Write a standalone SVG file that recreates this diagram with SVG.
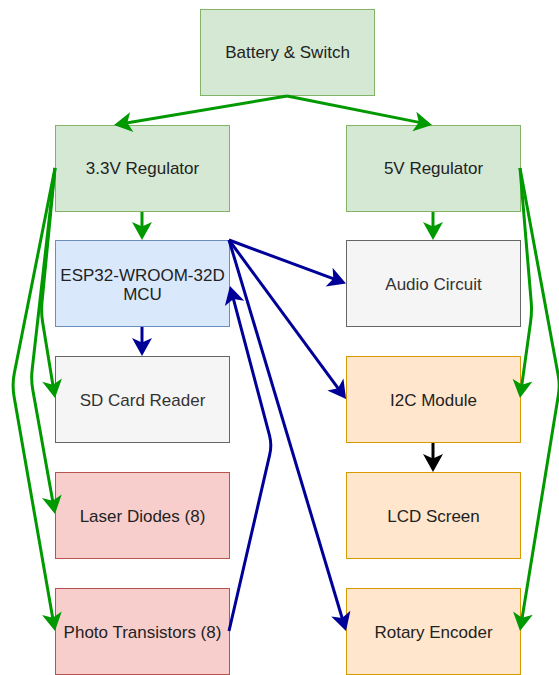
<svg xmlns="http://www.w3.org/2000/svg" width="559" height="675" viewBox="0 0 559 675">
<style>
  .box { stroke-width: 1; }
  .g { fill: #d5e8d4; stroke: #82b366; }
  .b { fill: #dae8fc; stroke: #6c8ebf; }
  .k { fill: #f5f5f5; stroke: #666666; }
  .r { fill: #f8cecc; stroke: #b85450; }
  .o { fill: #ffe6cc; stroke: #d79b00; }
  text { font-family: "Liberation Sans", Arial, sans-serif; font-size: 17px; text-anchor: middle; fill: #222222; }
  text.dim { fill: #333333; }
  .e { fill: none; stroke-width: 3; stroke-linejoin: round; }
  .eg { stroke: #009900; }
  .eb { stroke: #000099; }
  .ek { stroke: #000000; }
</style>
<defs>
  <marker id="ag" viewBox="-12 -11 22 22" refX="0" refY="0" markerWidth="22" markerHeight="22" markerUnits="userSpaceOnUse" orient="auto" overflow="visible">
    <path d="M8,0 L-10,-10 L-5.5,0 L-10,10 Z" fill="#009900"/>
  </marker>
  <marker id="ab" viewBox="-12 -11 22 22" refX="0" refY="0" markerWidth="22" markerHeight="22" markerUnits="userSpaceOnUse" orient="auto" overflow="visible">
    <path d="M8,0 L-10,-10 L-5.5,0 L-10,10 Z" fill="#000099"/>
  </marker>
  <marker id="ak" viewBox="-12 -11 22 22" refX="0" refY="0" markerWidth="22" markerHeight="22" markerUnits="userSpaceOnUse" orient="auto" overflow="visible">
    <path d="M8,0 L-10,-10 L-5.5,0 L-10,10 Z" fill="#000000"/>
  </marker>
</defs>

<g id="battery"><rect class="box g" x="200.5" y="9.5" width="174" height="86"/><text x="287.5" y="58">Battery &amp; Switch</text></g>
<g id="reg33"><rect class="box g" x="55.5" y="125.5" width="174" height="86"/><text x="142.5" y="174">3.3V Regulator</text></g>
<g id="reg5"><rect class="box g" x="346.5" y="125.5" width="174" height="86"/><text x="433.5" y="174">5V Regulator</text></g>
<g id="esp32"><rect class="box b" x="55.5" y="240.5" width="174" height="86"/><text x="142.5" y="281">ESP32-WROOM-32D</text><text x="142.5" y="300">MCU</text></g>
<g id="audio"><rect class="box k" x="346.5" y="240.5" width="174" height="86"/><text class="dim" x="433.5" y="290">Audio Circuit</text></g>
<g id="sdcard"><rect class="box k" x="55.5" y="356.5" width="174" height="86"/><text class="dim" x="142.5" y="406">SD Card Reader</text></g>
<g id="i2c"><rect class="box o" x="346.5" y="356.5" width="174" height="86"/><text x="433.5" y="406">I2C Module</text></g>
<g id="laser"><rect class="box r" x="55.5" y="472.5" width="174" height="86"/><text x="142.5" y="522">Laser Diodes (8)</text></g>
<g id="lcd"><rect class="box o" x="346.5" y="472.5" width="174" height="86"/><text x="433.5" y="522">LCD Screen</text></g>
<g id="photo"><rect class="box r" x="55.5" y="588.5" width="174" height="86"/><text x="142.5" y="638">Photo Transistors (8)</text></g>
<g id="rotary"><rect class="box o" x="346.5" y="588.5" width="174" height="86"/><text x="433.5" y="638">Rotary Encoder</text></g>

<g id="connectors">
  <path class="e eg" d="M287,96 L121.9,123.7" marker-end="url(#ag)"/>
  <path class="e eg" d="M287,96 L424.2,123.4" marker-end="url(#ag)"/>
  <path class="e eg" d="M142,212 L142,232" marker-end="url(#ag)"/>
  <path class="e eg" d="M433,212 L433,232" marker-end="url(#ag)"/>
  <path class="e eb" d="M142,327 L142,348" marker-end="url(#ab)"/>
  <path class="e ek" d="M433,443 L433,464" marker-end="url(#ak)"/>

  <path class="e eg" d="M55,168 L42,302 Q41,312 42.6,321.9 L53.7,390.1" marker-end="url(#ag)"/>
  <path class="e eg" d="M55,168 L32.1,370.1 Q31,380 32.8,389.9 L53.6,506.1" marker-end="url(#ag)"/>
  <path class="e eg" d="M55,168 L14.3,373.2 Q12,385 14.1,396.8 L53.6,623.1" marker-end="url(#ag)"/>

  <path class="e eg" d="M520,168 L531.2,302 Q532,312 530.6,321.9 L521.1,390.1" marker-end="url(#ag)"/>
  <path class="e eg" d="M520,168 L558.2,375.2 Q560,385 558.4,394.9 L521.3,623.1" marker-end="url(#ag)"/>

  <path class="e eb" d="M229,240 L338.5,280.7" marker-end="url(#ab)"/>
  <path class="e eb" d="M229,240 L341.3,392.6" marker-end="url(#ab)"/>
  <path class="e eb" d="M229,240 L343.7,623.3" marker-end="url(#ab)"/>
  <path class="e eb" d="M229,631 L269.7,454.7 Q272,445 269.5,435.3 L232,293.7" marker-end="url(#ab)"/>
</g>
</svg>
